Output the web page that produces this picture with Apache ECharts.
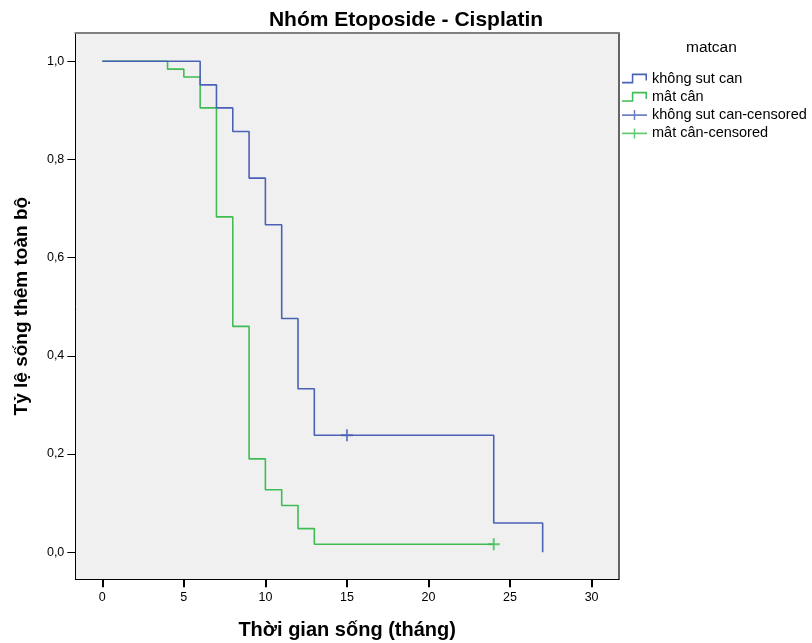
<!DOCTYPE html>
<html>
<head>
<meta charset="utf-8">
<script src="https://cdn.jsdelivr.net/npm/echarts@6.0.0/dist/echarts.min.js"></script>
<style>
html,body{margin:0;padding:0;background:#fff;}
#chart{width:812px;height:643px;}
</style>
</head>
<body>
<div id="chart"></div>
<script>
// ---- data ----
var seriesNames = ['không sut can', 'mât cân', 'không sut can-censored', 'mât cân-censored'];
var blueTimes = [0, 6, 7, 8, 9, 10, 11, 12, 13, 24, 27];
var blueSurv  = [1.0, 0.952, 0.905, 0.857, 0.762, 0.667, 0.476, 0.333, 0.238, 0.0595, 0.0];
var greenTimes = [0, 4, 5, 6, 7, 8, 9, 10, 11, 12, 13, 24];
var greenSurv  = [1.0, 0.984, 0.968, 0.905, 0.683, 0.460, 0.190, 0.127, 0.095, 0.048, 0.016, 0.016];
var blueCensorTimes = [15];
var blueCensorSurv = [0.238];
var greenCensorTimes = [24];
var greenCensorSurv = [0.016];
var xTicks = [0, 5, 10, 15, 20, 25, 30];
var yTicks = [0, 0.2, 0.4, 0.6, 0.8, 1.0];

function pairs(xs, ys) { return xs.map(function (x, i) { return [x, ys[i]]; }); }

var BLUE = '#4a62b6';
var GREEN = '#3fbd52';
var FONT = '"Liberation Sans", Arial, sans-serif';
var plusPath = 'path://M0,4.2H10V5.8H0Z M4.2,0H5.8V10H4.2Z';
var stepIcon = 'path://M0,8.2H11.8V9.8H0Z M10.2,0.2H11.8V9.8H10.2Z M10.2,0.2H26V1.8H10.2Z M24.4,0.2H26V7H24.4Z';
var censIcon = 'path://M0,4.2H26V5.8H0Z M12.2,0H13.8V10H12.2Z';

var chart = echarts.init(document.getElementById('chart'), null, {renderer: 'canvas'});
chart.setOption({
  backgroundColor: '#ffffff',
  animation: false,
  textStyle: {fontFamily: FONT},
  title: {
    text: 'Nhóm Etoposide - Cisplatin',
    left: 'center', top: 5,
    textStyle: {fontFamily: FONT, fontSize: 21, fontWeight: 'bold', color: '#000'}
  },
  legend: {
    orient: 'vertical',
    left: 617, top: 66,
    itemWidth: 25, itemHeight: 10, itemGap: 3.3,
    symbolKeepAspect: false,
    textStyle: {fontFamily: FONT, fontSize: 14.5, color: '#000'},
    data: [
      {name: seriesNames[0], icon: stepIcon, itemStyle: {color: BLUE}},
      {name: seriesNames[1], icon: stepIcon, itemStyle: {color: GREEN}},
      {name: seriesNames[2], icon: censIcon, itemStyle: {color: BLUE}},
      {name: seriesNames[3], icon: censIcon, itemStyle: {color: GREEN}}
    ]
  },
  graphic: [{
    type: 'text', left: 686, top: 40,
    style: {text: 'matcan', font: '15.5px ' + FONT, fill: '#000'}
  }],
  grid: {
    left: 75.3, top: 33, right: 193, bottom: 63.7,
    show: true, backgroundColor: '#f0f0f0', borderWidth: 0,
    outerBoundsMode: 'none'
  },
  xAxis: [{
    type: 'value', min: -1.655, max: 31.68, position: 'bottom',
    axisLine: {show: true, onZero: false, lineStyle: {color: '#000', width: 1}},
    axisTick: {show: true, customValues: xTicks, length: 8, lineStyle: {color: '#000', width: 2}},
    axisLabel: {customValues: xTicks, fontSize: 12.5, color: '#000', margin: 12, fontFamily: FONT},
    splitLine: {show: false},
    name: 'Thời gian sống (tháng)', nameLocation: 'middle', nameGap: 41,
    nameTextStyle: {fontFamily: FONT, fontSize: 20, fontWeight: 'bold', color: '#000'}
  }, {
    type: 'value', min: -1.655, max: 31.68, position: 'top',
    axisLine: {show: true, onZero: false, lineStyle: {color: '#808080', width: 2}},
    axisTick: {show: false}, axisLabel: {show: false}, splitLine: {show: false}
  }],
  yAxis: [{
    type: 'value', min: -0.0553, max: 1.0576, position: 'left',
    axisLine: {show: true, onZero: false, lineStyle: {color: '#000', width: 1}},
    axisTick: {show: true, customValues: yTicks, length: 8, lineStyle: {color: '#000', width: 1}},
    axisLabel: {customValues: yTicks, fontSize: 12.5, color: '#000', margin: 11, fontFamily: FONT,
      formatter: function (v) { return v.toFixed(1).replace('.', ','); }},
    splitLine: {show: false},
    name: 'Tỷ lệ sống thêm toàn bộ', nameLocation: 'middle', nameGap: 44,
    nameTextStyle: {fontFamily: FONT, fontSize: 19, fontWeight: 'bold', color: '#000'}
  }, {
    type: 'value', min: -0.0553, max: 1.0576, position: 'right',
    axisLine: {show: true, onZero: false, lineStyle: {color: '#333', width: 1.5}},
    axisTick: {show: false}, axisLabel: {show: false}, splitLine: {show: false}
  }],
  series: [{
    name: seriesNames[0], type: 'line', step: 'end',
    data: pairs(blueTimes, blueSurv),
    showSymbol: false, symbol: 'none',
    lineStyle: {color: BLUE, width: 1.6}, itemStyle: {color: BLUE}, z: 3
  }, {
    name: seriesNames[1], type: 'line', step: 'end',
    data: pairs(greenTimes, greenSurv),
    showSymbol: false, symbol: 'none',
    lineStyle: {color: GREEN, width: 1.6}, itemStyle: {color: GREEN}, z: 2
  }, {
    name: seriesNames[2], type: 'scatter',
    data: pairs(blueCensorTimes, blueCensorSurv),
    symbol: plusPath, symbolSize: 12, itemStyle: {color: BLUE}, z: 4
  }, {
    name: seriesNames[3], type: 'scatter',
    data: pairs(greenCensorTimes, greenCensorSurv),
    symbol: plusPath, symbolSize: 12, itemStyle: {color: GREEN}, z: 4
  }]
});
</script>
</body>
</html>
